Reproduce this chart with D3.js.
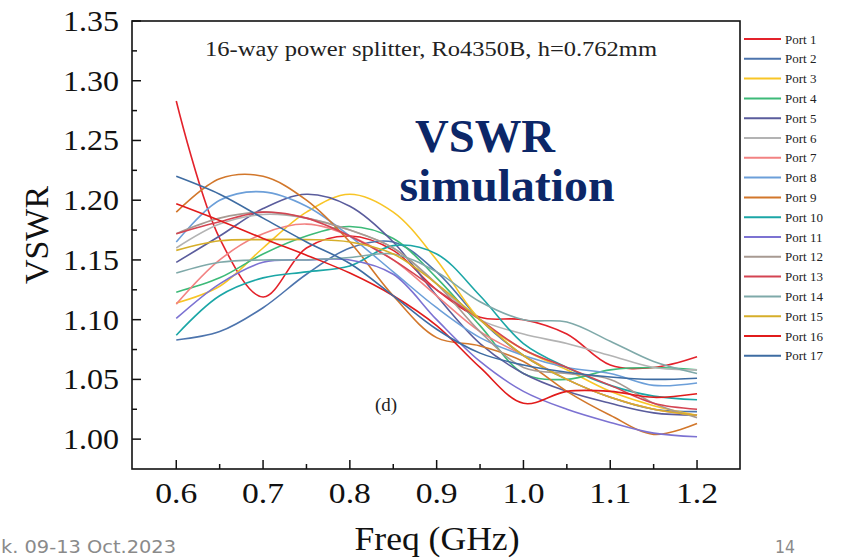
<!DOCTYPE html>
<html lang="en">
<head>
  <meta charset="UTF-8">
  <title>VSWR simulation</title>
  <script src="https://d3js.org/d3.v7.min.js"></script>
  <style>
    body { margin: 0; background: #fff; }
    svg { display: block; }
    .tick-label { font-family: 'Liberation Serif', 'Times New Roman', serif; font-size: 30px; fill: #111; }
    .axis-title { font-family: 'Liberation Serif', 'Times New Roman', serif; font-size: 34px; fill: #111; }
    .legend text { font-family: 'Liberation Serif', 'Times New Roman', serif; font-size: 13px; fill: #222; }
    .line { fill: none; stroke-width: 1.6px; }
  </style>
</head>
<body>
<svg id="chart" width="846" height="558"></svg>
<script>
  // frequency grid (GHz)
  const freqs = [0.60, 0.65, 0.70, 0.75, 0.80, 0.85, 0.90, 0.95, 1.00, 1.05, 1.10, 1.15, 1.20];

  const ports = ["Port 1","Port 2","Port 3","Port 4","Port 5","Port 6","Port 7","Port 8","Port 9",
                 "Port 10","Port 11","Port 12","Port 13","Port 14","Port 15","Port 16","Port 17"];

  const colors = ["#e3222b","#4d74ad","#f8c526","#3dba78","#5a5c9c","#b3b3b3","#f28282","#6c9fd9","#d2772b",
                  "#1ba6a6","#7c72d2","#a79a92","#d44452","#7fa9a9","#d6ae2a","#e11b1b","#3e6ca2"];

  // VSWR values at each frequency
  const port1  = [1.283, 1.168, 1.119, 1.160, 1.170, 1.158, 1.125, 1.102, 1.100, 1.088, 1.062, 1.060, 1.069];
  const port2  = [1.083, 1.090, 1.110, 1.138, 1.160, 1.165, 1.140, 1.100, 1.070, 1.050, 1.035, 1.025, 1.023];
  const port3  = [1.114, 1.128, 1.160, 1.190, 1.205, 1.190, 1.150, 1.100, 1.075, 1.058, 1.040, 1.028, 1.020];
  const port4  = [1.123, 1.135, 1.155, 1.170, 1.178, 1.168, 1.135, 1.095, 1.055, 1.050, 1.058, 1.060, 1.058];
  const port5  = [1.148, 1.170, 1.193, 1.205, 1.195, 1.165, 1.120, 1.080, 1.055, 1.040, 1.030, 1.022, 1.020];
  const port6  = [1.160, 1.180, 1.188, 1.185, 1.175, 1.160, 1.130, 1.100, 1.088, 1.080, 1.070, 1.060, 1.058];
  const port7  = [1.113, 1.150, 1.172, 1.180, 1.170, 1.150, 1.120, 1.090, 1.070, 1.050, 1.035, 1.025, 1.020];
  const port8  = [1.165, 1.200, 1.207, 1.195, 1.170, 1.140, 1.110, 1.085, 1.070, 1.060, 1.055, 1.045, 1.047];
  const port9  = [1.190, 1.218, 1.220, 1.200, 1.165, 1.120, 1.085, 1.078, 1.065, 1.040, 1.020, 1.004, 1.013];
  const port10 = [1.087, 1.120, 1.135, 1.140, 1.145, 1.162, 1.155, 1.120, 1.080, 1.060, 1.045, 1.036, 1.033];
  const port11 = [1.101, 1.130, 1.148, 1.150, 1.150, 1.138, 1.100, 1.065, 1.040, 1.025, 1.014, 1.005, 1.002];
  const port12 = [1.172, 1.185, 1.190, 1.185, 1.175, 1.160, 1.130, 1.090, 1.060, 1.055, 1.050, 1.030, 1.018];
  const port13 = [1.172, 1.182, 1.190, 1.185, 1.170, 1.150, 1.125, 1.100, 1.075, 1.060, 1.045, 1.030, 1.025];
  const port14 = [1.139, 1.148, 1.150, 1.150, 1.152, 1.155, 1.140, 1.115, 1.100, 1.098, 1.082, 1.065, 1.055];
  const port15 = [1.158, 1.166, 1.167, 1.167, 1.165, 1.155, 1.130, 1.100, 1.070, 1.050, 1.035, 1.025, 1.020];
  const port16 = [1.197, 1.183, 1.168, 1.154, 1.139, 1.120, 1.095, 1.060, 1.030, 1.040, 1.040, 1.035, 1.038];
  const port17 = [1.220, 1.205, 1.185, 1.165, 1.147, 1.120, 1.092, 1.072, 1.062, 1.056, 1.052, 1.050, 1.051];

  const series = [port1, port2, port3, port4, port5, port6, port7, port8, port9,
                  port10, port11, port12, port13, port14, port15, port16, port17];

  const xTicks = [0.6, 0.7, 0.8, 0.9, 1.0, 1.1, 1.2];
  const xMinor = [0.65, 0.75, 0.85, 0.95, 1.05, 1.15];
  const yTicks = [1.00, 1.05, 1.10, 1.15, 1.20, 1.25, 1.30, 1.35];

  const svg = d3.select("#chart");
  const plot = {left: 132, right: 740, top: 21, bottom: 469};

  const x = d3.scaleLinear().domain([0.549, 1.2495]).range([plot.left, plot.right]);
  const y = d3.scaleLinear().domain([0.975, 1.35]).range([plot.bottom, plot.top]);

  svg.append("rect").attr("width", 846).attr("height", 558).attr("fill", "#fff");

  const line = d3.line()
    .x((d, i) => x(freqs[i]))
    .y(d => y(d))
    .curve(d3.curveCatmullRom.alpha(0.5));

  const g = svg.append("g");
  series.forEach((vals, i) => {
    g.append("path")
      .datum(vals)
      .attr("class", "line")
      .attr("stroke", colors[i])
      .attr("d", line);
  });

  // frame
  svg.append("rect")
    .attr("x", plot.left).attr("y", plot.top)
    .attr("width", plot.right - plot.left).attr("height", plot.bottom - plot.top)
    .attr("fill", "none").attr("stroke", "#111").attr("stroke-width", 1.6);

  // ticks pointing inward
  const ax = svg.append("g").attr("stroke", "#111").attr("stroke-width", 1.5);
  xTicks.forEach(t => ax.append("line").attr("x1", x(t)).attr("x2", x(t)).attr("y1", plot.bottom).attr("y2", plot.bottom - 9));
  xMinor.forEach(t => ax.append("line").attr("x1", x(t)).attr("x2", x(t)).attr("y1", plot.bottom).attr("y2", plot.bottom - 5));
  yTicks.forEach(t => ax.append("line").attr("x1", plot.left).attr("x2", plot.left + 9).attr("y1", y(t)).attr("y2", y(t)));
  yTicks.slice(0, -1).forEach(t => ax.append("line").attr("x1", plot.left).attr("x2", plot.left + 5)
    .attr("y1", y(t + 0.025)).attr("y2", y(t + 0.025)));

  xTicks.forEach(t => svg.append("text").attr("class", "tick-label")
    .attr("x", x(t)).attr("y", 503).attr("text-anchor", "middle")
    .attr("textLength", 42).attr("lengthAdjust", "spacingAndGlyphs").text(t.toFixed(1)));
  yTicks.forEach(t => svg.append("text").attr("class", "tick-label")
    .attr("x", 119).attr("y", y(t) + 10).attr("text-anchor", "end")
    .attr("textLength", 56).attr("lengthAdjust", "spacingAndGlyphs").text(t.toFixed(2)));

  svg.append("text").attr("class", "axis-title")
    .attr("x", 437).attr("y", 550).attr("text-anchor", "middle")
    .attr("textLength", 165).attr("lengthAdjust", "spacingAndGlyphs").text("Freq (GHz)");
  svg.append("text").attr("class", "axis-title")
    .attr("transform", `translate(48,${(plot.top + plot.bottom) / 2 - 10}) rotate(-90)`)
    .attr("text-anchor", "middle").text("VSWR");

  // in-plot annotations
  svg.append("text").attr("x", 431).attr("y", 56).attr("text-anchor", "middle")
    .style("font-family", "'Liberation Serif', serif").style("font-size", "20px").attr("fill", "#222")
    .attr("textLength", 452).attr("lengthAdjust", "spacingAndGlyphs")
    .text("16-way power splitter, Ro4350B, h=0.762mm");
  svg.append("text").attr("x", 386).attr("y", 411).attr("text-anchor", "middle")
    .style("font-family", "'Liberation Serif', serif").style("font-size", "19px").attr("fill", "#222")
    .text("(d)");
  svg.append("text").attr("x", 485).attr("y", 152).attr("text-anchor", "middle")
    .style("font-family", "'Liberation Serif', serif").style("font-size", "47px").style("font-weight", "bold")
    .attr("fill", "#0c2768").attr("textLength", 140).attr("lengthAdjust", "spacingAndGlyphs").text("VSWR");
  svg.append("text").attr("x", 507).attr("y", 201).attr("text-anchor", "middle")
    .style("font-family", "'Liberation Serif', serif").style("font-size", "47px").style("font-weight", "bold")
    .attr("fill", "#0c2768").attr("textLength", 215).attr("lengthAdjust", "spacingAndGlyphs").text("simulation");

  // legend
  const legend = svg.append("g").attr("class", "legend");
  ports.forEach((p, i) => {
    const ly = 39 + i * 19.8;
    legend.append("line").attr("x1", 744).attr("x2", 781).attr("y1", ly).attr("y2", ly)
      .attr("stroke", colors[i]).attr("stroke-width", 2);
    legend.append("text").attr("x", 785).attr("y", ly + 4.5).text(p);
  });

  // slide footer
  svg.append("text").attr("x", 1).attr("y", 553)
    .style("font-family", "'DejaVu Sans', sans-serif").style("font-size", "18px").attr("fill", "#8a8a8a")
    .attr("textLength", 175).attr("lengthAdjust", "spacingAndGlyphs").text("k. 09-13 Oct.2023");
  svg.append("text").attr("x", 775).attr("y", 553)
    .style("font-family", "'DejaVu Sans', sans-serif").style("font-size", "18px").attr("fill", "#8a8a8a")
    .attr("textLength", 20).attr("lengthAdjust", "spacingAndGlyphs").text("14");
</script>
</body>
</html>
